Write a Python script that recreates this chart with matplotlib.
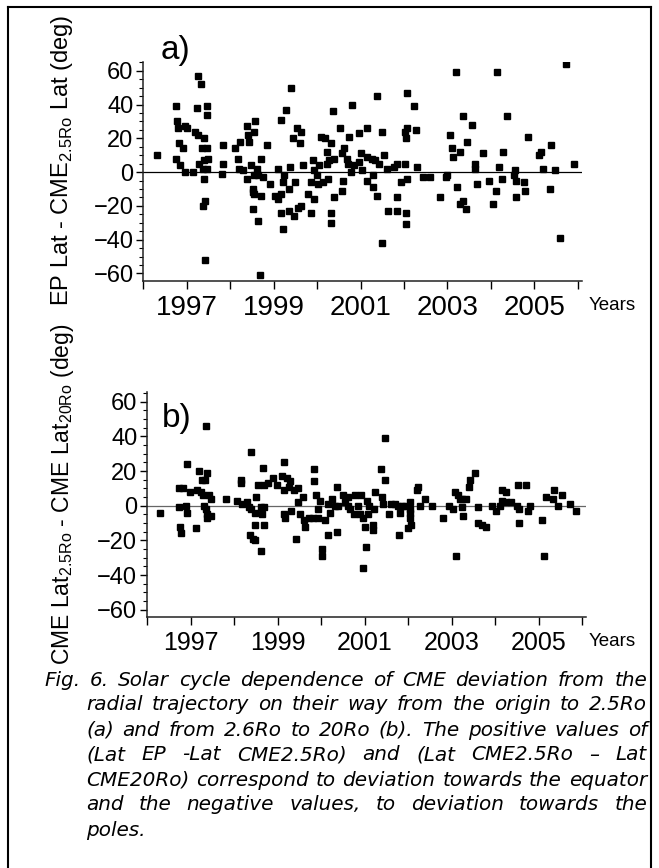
import matplotlib
matplotlib.use('Agg')
import matplotlib.pyplot as plt
from matplotlib.ticker import MultipleLocator, FixedLocator, FixedFormatter
from matplotlib.lines import Line2D

plt.rcParams['font.family'] = ['Liberation Sans', 'DejaVu Sans']
plt.rcParams['mathtext.fontset'] = 'custom'
plt.rcParams['mathtext.rm'] = 'Liberation Sans'

# a) EP Lat - CME 2.5Ro Lat
years_a = [1996.32, 1996.76, 1996.77, 1996.81, 1996.97, 1997.01, 1996.82, 1996.92, 1996.75, 1996.85,
           1996.95, 1997.15, 1997.27, 1997.32, 1997.24, 1997.47, 1997.47, 1997.19, 1997.27, 1997.40,
           1997.36, 1997.47, 1997.48, 1997.40, 1997.28, 1997.37, 1997.47, 1997.40, 1997.43, 1997.37,
           1997.42, 1997.84, 1997.83, 1997.82, 1998.12, 1998.22, 1998.38, 1998.40, 1998.43, 1998.58,
           1998.55, 1998.84, 1998.18, 1998.20, 1998.30, 1998.47, 1998.61, 1998.72, 1998.39, 1998.55,
           1998.65, 1998.75, 1998.53, 1998.52, 1998.55, 1998.70, 1998.52, 1998.65, 1998.68, 1998.92,
           1999.11, 1999.03, 1999.11, 1999.18, 1999.18, 1999.21, 1999.23, 1999.21, 1999.35, 1999.38,
           1999.35, 1999.18, 1999.28, 1999.41, 1999.44,
           1999.48, 1999.54, 1999.63, 1999.61, 1999.49, 1999.67, 1999.63, 1999.55, 1999.85, 1999.80,
           1999.93, 1999.91, 1999.94, 1999.99, 1999.85, 2000.03, 2000.14, 2000.26, 2000.05, 2000.09,
           2000.18, 2000.31, 2000.22, 2000.22, 2000.28, 2000.38, 2000.36, 2000.40, 2000.32, 2000.32,
           2000.53, 2000.57, 2000.62, 2000.70, 2000.60, 2000.57, 2000.74, 2000.81, 2000.71, 2000.77,
           2000.85, 2000.97, 2000.97, 2001.00, 2001.03, 2001.14, 2001.16, 2001.26, 2001.33, 2001.43,
           2001.29, 2001.16, 2001.29, 2001.39, 2001.50, 2001.39, 2001.53, 2001.60, 2001.50, 2001.64,
           2001.76, 2001.83, 2001.85, 2001.83, 2001.93, 2002.03, 2002.06, 2002.06, 2002.23, 2002.06,
           2002.02, 2002.05, 2002.27, 2002.05, 2002.05, 2002.29, 2002.43, 2002.60, 2002.83,
           2002.97, 2002.99, 2003.07, 2003.11, 2003.12, 2003.20, 2003.21, 2003.29, 2003.28, 2003.37,
           2003.43, 2003.37, 2003.56, 2003.46, 2003.63, 2003.63, 2003.67, 2003.83, 2003.96, 2004.04,
           2004.15, 2004.12, 2004.19, 2004.25, 2004.29, 2004.36, 2004.55, 2004.54, 2004.59, 2004.59,
           2004.76, 2004.79, 2004.86, 2005.11, 2005.15, 2005.19, 2005.35, 2005.38, 2005.48, 2005.58,
           2005.74, 2005.91]
dev_a = [10, 39, 30, 26, 27, 26, 17, 14, 8, 4,
         0, 0, 57, 52, 38, 39, 34, 24, 22, 20,
         14, 14, 8, 7, 5, 2, 2, -4, -17, -20,
         -52, 16, 5, -1, 14, 18, 27, 22, 18, 30,
         24, 16, 8, 2, 1, 4, 2, 8, -4, -2,
         -2, -3, -10, -12, -13, -14, -22, -29, -61, -7,
         2, -14, -16, -13, -24, -34, -2, -6, -10, 3,
         -23, 31, 37, 50, 20,
         -26, 26, 24, 17, -6, 4, -20, -21, -24, -13,
         -16, 7, 1, -2, -6, -7, -6, -4, 4, 21,
         20, 17, 12, 5, 7, 8, 36, -15, -24, -30,
         26, 11, 14, 8, -5, -11, 21, 40, 5, 0,
         4, 6, 23, 11, 1, 26, 9, 8, 7, 5,
         -2, -5, -9, 45, 24, -14, 10, 2, -42, -23,
         3, 5, -15, -23, -6, 5, -4, 47, 39, 26,
         24, 20, 25, -24, -31, 3, -3, -3, -15,
         -3, -2, 22, 14, 9, 59, -9, 12, -19, -17,
         -22, 33, 28, 18, 5, 2, -7, 11, -5, -19,
         59, -11, 3, -4, 12, 33, 1, -2, -5, -15,
         -6, -11, 21, 10, 12, 2, -10, 16, 1, -39,
         64, 5]

# b) CME Lat 2.5Ro - CME Lat 20Ro
years_b = [1996.31, 1997.36, 1996.93, 1997.20, 1997.39, 1997.26, 1997.34, 1996.74, 1996.83, 1996.98,
           1997.15, 1997.23, 1997.28, 1997.42, 1997.46, 1996.74, 1996.90, 1996.93, 1997.32, 1997.36,
           1997.39, 1997.46, 1997.38, 1996.75, 1996.78, 1997.13, 1997.82, 1998.15, 1998.16, 1998.08,
           1998.18, 1998.30, 1998.34, 1998.40, 1998.66, 1998.55, 1998.68, 1998.51, 1998.40, 1998.49,
           1998.61, 1998.70, 1998.64, 1998.49, 1998.68, 1998.36, 1998.44, 1998.49, 1998.61, 1998.77,
           1998.89, 1998.99, 1999.14, 1999.10, 1999.22, 1999.28, 1999.26, 1999.16, 1999.37, 1999.16,
           1999.18, 1999.31, 1999.43,
           1999.46, 1999.59, 1999.46, 1999.52, 1999.60, 1999.73, 1999.82, 1999.93, 1999.63, 1999.84,
           1999.84, 1999.88, 1999.93, 1999.98, 2000.08, 2000.02, 2000.03, 2000.17, 2000.26, 2000.31,
           2000.38, 2000.21, 2000.17, 2000.36, 2000.36, 2000.51, 2000.54, 2000.61, 2000.63, 2000.67,
           2000.75, 2000.78, 2000.92, 2000.90, 2000.97, 2001.01, 2000.86, 2001.06, 2001.10, 2001.08,
           2001.19, 2001.19, 2001.04, 2000.97, 2001.23, 2001.21, 2001.41, 2001.43, 2001.38, 2001.47,
           2001.47, 2001.57, 2001.62, 2001.70, 2001.78, 2001.85, 2001.93, 2002.05, 2002.05, 2002.05,
           2002.05, 2002.07, 2002.01, 2001.82, 2001.80, 2002.22, 2002.20, 2002.39, 2002.28, 2002.56,
           2002.81,
           2002.94, 2003.03, 2003.09, 2003.15, 2003.19, 2003.25, 2003.33, 2003.23, 2003.26, 2003.11,
           2003.40, 2003.43, 2003.53, 2003.61, 2003.61, 2003.69, 2003.79, 2003.94, 2004.02, 2004.12,
           2004.17, 2004.17, 2004.26, 2004.26, 2004.36, 2004.53, 2004.72, 2004.51, 2004.55, 2004.55,
           2004.76, 2004.81, 2005.09, 2005.12, 2005.17, 2005.33, 2005.36, 2005.45, 2005.55, 2005.72,
           2005.87]
dev_b = [-4, 46, 24, 20, 19, 15, 15, 10, 10, 8,
         9, 8, 6, 6, 4, -1, 0, -4, 0, -2,
         -5, -6, -7, -12, -16, -13, 4, 15, 13, 3,
         1, 2, -1, 31, 22, 12, 12, 5, -2, -4,
         -1, -1, -5, -11, -11, -17, -19, -20, -26, 13,
         16, 12, 25, 17, 16, 14, 11, 9, 9, -5,
         -7, -3, -19,
         10, 5, 2, -5, -8, -7, -7, -7, -12, 21,
         14, 6, -2, 3, -8, -25, -29, 1, 4, 0,
         0, -4, -17, -15, 11, 6, 2, 5, 0, -2,
         -5, 6, 6, -5, -7, -12, 0, 3, 0, -5,
         -11, -14, -24, -36, 8, -2, 5, 1, 21, 15,
         39, -5, 1, 1, 0, 0, 0, 2, -2, -4,
         -7, -11, -13, -4, -17, 11, 9, 4, 0, 0,
         -7,
         0, -2, 8, 6, 4, 4, 4, -1, -6, -29,
         11, 15, 19, -1, -10, -11, -12, 0, -3, 0,
         3, 9, 8, 2, 2, 12, 12, 0, -2, -10,
         -3, 0, -8, -29, 5, 4, 9, 0, 6, 1,
         -3]

year_ticks = list(range(1996, 2007))
year_labels = ['', '1997', '', '1999', '', '2001', '', '2003', '', '2005', '']

caption = ["Fig.  6. Solar cycle dependence of CME deviation from the",
           "radial trajectory on their way from the origin to 2.5Ro",
           "(a) and from 2.6Ro to 20Ro (b). The positive values of",
           "(Lat EP -Lat CME2.5Ro) and (Lat CME2.5Ro \u2013 Lat",
           "CME20Ro) correspond to deviation towards the equator",
           "and the negative values, to deviation towards the",
           "poles."]

W, H = 659, 868
fig = plt.figure(figsize=(W / 100, H / 100), dpi=100)


def px(x0, y0, x1, y1):
    # pixel box (top-left origin) -> figure fraction rect
    return [x0 / W, 1 - y1 / H, (x1 - x0) / W, (y1 - y0) / H]


def style_axes(ax, zero_color, lab_size):
    ax.set_xlim(1996, 2006.1)
    for s in ['top', 'right']:
        ax.spines[s].set_visible(False)
    for s in ['left', 'bottom']:
        ax.spines[s].set_linewidth(1.1)
        ax.spines[s].set_color('#222222')
    ax.axhline(0, color=zero_color, lw=0.9, zorder=1)
    ax.yaxis.set_major_locator(MultipleLocator(20))
    ax.yaxis.set_minor_locator(MultipleLocator(5))
    ax.xaxis.set_major_locator(FixedLocator(year_ticks))
    ax.xaxis.set_major_formatter(FixedFormatter(year_labels))
    ax.tick_params(axis='y', which='major', length=5, width=1, labelsize=17, pad=2)
    ax.tick_params(axis='y', which='minor', length=3, width=0.8)
    ax.tick_params(axis='x', which='major', length=6, width=1, labelsize=lab_size, pad=4)


ax1 = fig.add_axes(px(143.3, 62.3, 582.1, 281))
ax1.plot(years_a, dev_a, 's', color='black', ms=3.8, zorder=3)
ax1.set_ylim(-64.5, 65)
style_axes(ax1, 'black', 20)

ax2 = fig.add_axes(px(147, 392.3, 586.4, 616.7))
ax2.plot(years_b, dev_b, 's', color='black', ms=3.8, zorder=3)
ax2.set_ylim(-64, 65.4)
style_axes(ax2, '#666666', 18)

fig.text(176 / W, 1 - 50 / H, 'a)', fontsize=24, ha='center', va='center')
fig.text(177 / W, 1 - 418 / H, 'b)', fontsize=24, ha='center', va='center')
fig.text(612 / W, 1 - 305 / H, 'Years', fontsize=13.5, ha='center', va='center')
fig.text(612 / W, 1 - 642 / H, 'Years', fontsize=13.5, ha='center', va='center')

fig.text(62 / W, 1 - 160 / H, r'EP Lat - CME$_{\mathrm{2.5Ro}}$ Lat (deg)',
         fontsize=17, rotation=90, ha='center', va='center')
fig.text(62 / W, 1 - 494 / H, r'CME Lat$_{\mathrm{2.5Ro}}$ - CME Lat$_{\mathrm{20Ro}}$ (deg)',
         fontsize=16.5, rotation=90, ha='center', va='center')

# frame
fig.add_artist(Line2D([8 / W, 8 / W], [0, 1 - 7 / H], color='black', lw=1.5))
fig.add_artist(Line2D([8 / W, 651 / W], [1 - 7 / H, 1 - 7 / H], color='black', lw=1.5))
fig.add_artist(Line2D([651 / W, 651 / W], [0, 1 - 7 / H], color='black', lw=1.5))

# caption, justified
renderer = fig.canvas.get_renderer()
cap_font = dict(family='DejaVu Sans', style='oblique')


def width_of(s, size):
    t = fig.text(0, 0, s, fontsize=size, **cap_font)
    w = t.get_window_extent(renderer).width
    t.remove()
    return w


cap_size = 12 * 556 / width_of(caption[4], 12)
line_y = [680, 705, 730, 755, 780, 805, 830]
right = 647
for i, line in enumerate(caption):
    left = 44 if i == 0 else 86
    words = line.split()
    ws = [width_of(w, cap_size) for w in words]
    if i == len(caption) - 1:
        gap = width_of(' ', cap_size) + 2
    else:
        gap = (right - left - sum(ws)) / (len(words) - 1)
    x = left
    for w, wd in zip(words, ws):
        fig.text(x / W, 1 - line_y[i] / H, w, fontsize=cap_size, va='center', ha='left', **cap_font)
        x += wd + gap

fig.savefig('out.png', dpi=100)
